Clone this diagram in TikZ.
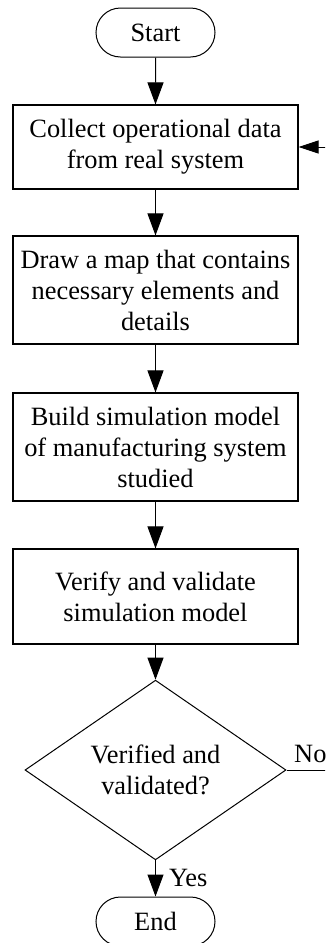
\documentclass[tikz,border=0pt]{standalone}
\usepackage{fontspec}
\setmainfont{Liberation Serif}
\usetikzlibrary{arrows.meta,shapes.misc,shapes.geometric}
\begin{document}
\begin{tikzpicture}[x=1pt,y=-1pt,
  every node/.style={font=\fontsize{26.4}{31}\selectfont, text=black},
  term/.style={draw, line width=1pt, rounded rectangle, minimum width=119pt, minimum height=49pt, inner sep=0pt},
  proc/.style={draw, line width=1.1pt, rectangle, minimum width=285pt, inner sep=0pt, align=center},
  dec/.style={draw, line width=1pt, diamond, minimum width=261pt, minimum height=156pt, inner sep=0pt, align=center},
  flow/.style={line width=1pt, -{Triangle[length=22pt,width=16pt]}},
  back/.style={line width=1pt, -{Triangle[length=20pt,width=13pt]}},
  lab/.style={inner sep=0pt}]
\useasboundingbox (0,0) rectangle (325,943);
\clip (0,0) rectangle (325,943);
\fill[white] (0,0) rectangle (325,943);
\node[term] (start) at (155.5,32.5) {Start};
\node[proc, minimum height=84pt] (b1) at (155.5,147) {Collect operational data\\from real system};
\node[proc, minimum height=108pt] (b2) at (155.5,290) {Draw a map that contains\\necessary elements and\\details};
\node[proc, minimum height=108pt] (b3) at (155.5,447) {Build simulation model\\of manufacturing system\\studied};
\node[proc, minimum height=95pt] (b4) at (155.5,596.5) {Verify and validate\\simulation model};
\node[dec] (d) at (155.5,770) {Verified and\\validated?};
\node[term] (end) at (155.5,921.5) {End};
\coordinate (r1) at (345,770);
\coordinate (r2) at (345,147);
\draw[flow] (start) -- (b1);
\draw[flow] (b1) -- (b2);
\draw[flow] (b2) -- (b3);
\draw[flow] (b3) -- (b4);
\draw[flow] (b4) -- (d);
\draw[flow] (d.south) -- (end.north) node[lab, midway, anchor=west, xshift=13pt] (yes) {Yes};
\draw[back] (d.east) -- (r1) -- (r2) -- (b1.east);
\node[lab, anchor=base west] (no) at (294,762) {No};
\end{tikzpicture}
\end{document}
